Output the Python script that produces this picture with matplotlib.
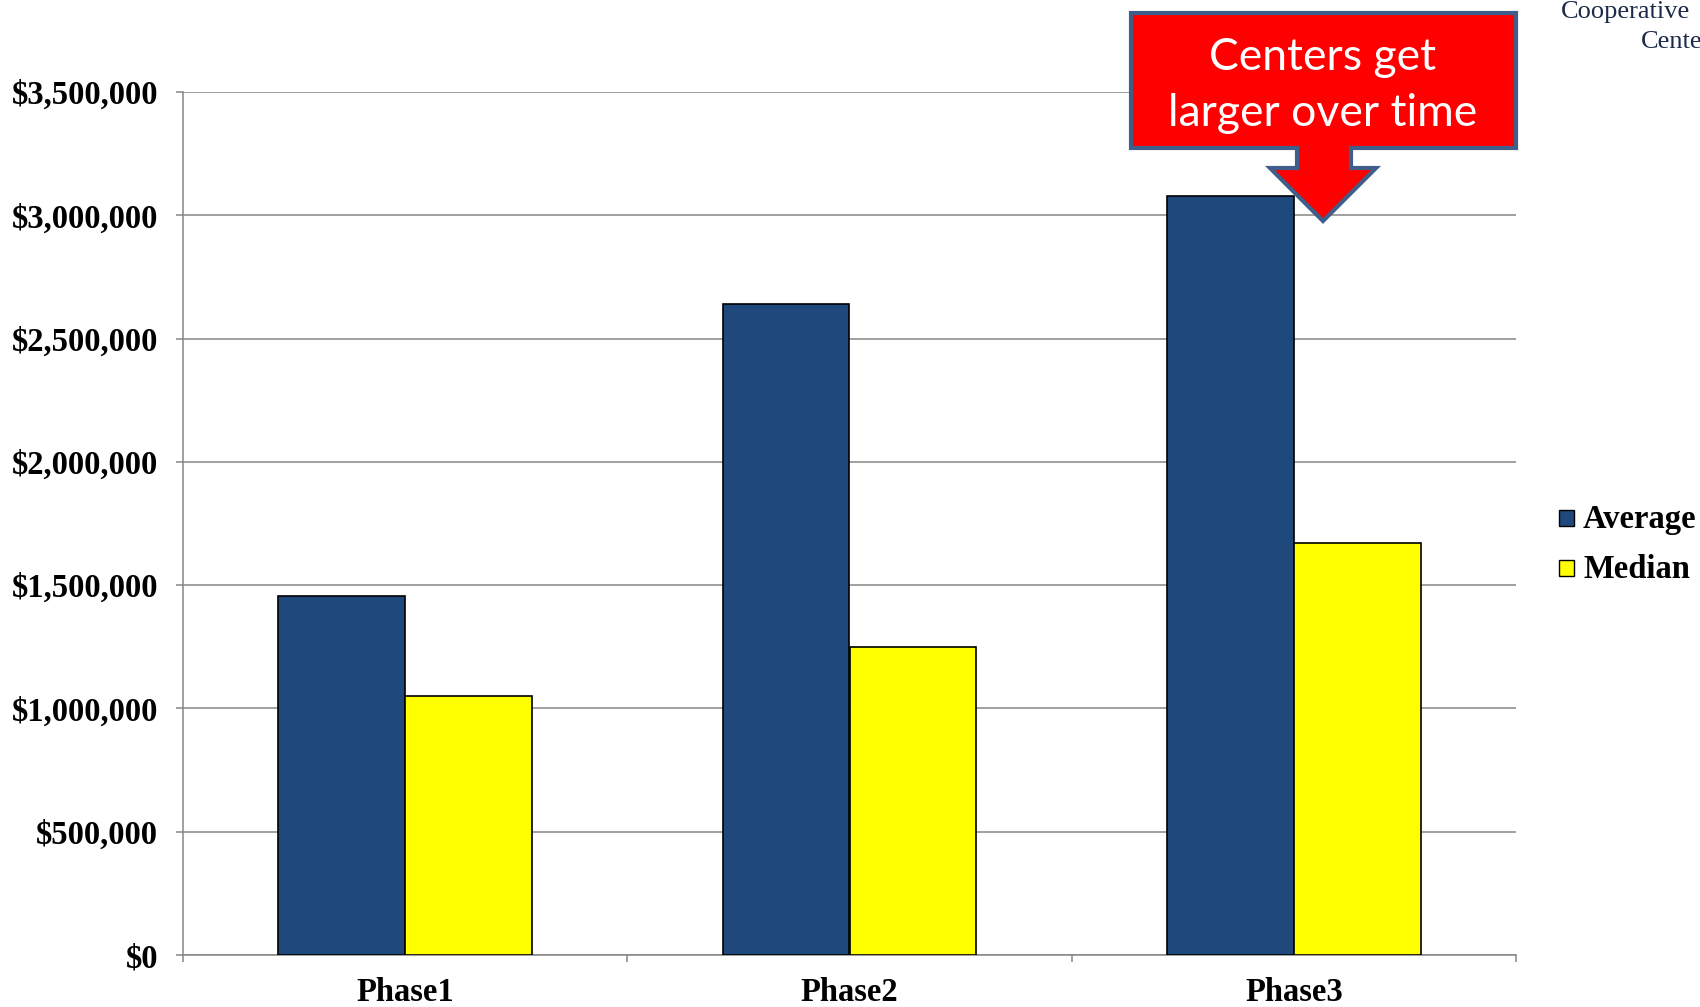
"""Average vs median center budget by phase."""

import matplotlib
matplotlib.use("Agg")
import matplotlib.pyplot as plt
import numpy as np
from matplotlib.patches import Polygon, Rectangle
from matplotlib.ticker import FuncFormatter, FixedLocator

phases = ["Phase1", "Phase2", "Phase3"]
average = [1455000, 2640000, 3080000]
median = [1050000, 1250000, 1670000]
series_names = ["Average", "Median"]
y_ticks = [0, 500000, 1000000, 1500000, 2000000, 2500000, 3000000, 3500000]

W, H = 1700, 1007
NAVY = "#1F497D"
YELLOW = "#FFFF00"
GRID = "#868686"
SERIF = "Liberation Serif"
LABEL_SIZE = 23.5


def fx(px):
    return px / W


def fy(py):
    return 1 - py / H


fig = plt.figure(figsize=(W / 100, H / 100), dpi=100)
ax = fig.add_axes([fx(183), fy(955), fx(1516) - fx(183), fy(92) - fy(955)])

x = np.arange(len(phases))
bw = 1 / 3.5
ax.bar(x - bw / 2, average, bw, color=NAVY, edgecolor="black", linewidth=1.2, zorder=3)
ax.bar(x + bw / 2, median, bw, color=YELLOW, edgecolor="black", linewidth=1.2, zorder=3)

ax.set_xlim(-0.5, len(phases) - 0.5)
ax.set_ylim(0, 3500000)
ax.set_yticks(y_ticks)
ax.yaxis.set_major_formatter(FuncFormatter(lambda v, _: f"${v:,.0f}"))
ax.set_xticks(x)
ax.set_xticklabels(phases)
ax.xaxis.set_minor_locator(FixedLocator(np.arange(-0.5, len(phases), 1.0)))

ax.grid(axis="y", color=GRID, linewidth=1.1, zorder=0)
ax.set_axisbelow(True)
for side in ("top", "right"):
    ax.spines[side].set_visible(False)
for side in ("left", "bottom"):
    ax.spines[side].set_color(GRID)
    ax.spines[side].set_linewidth(1.1)

ax.tick_params(axis="y", length=5, width=1.1, color=GRID, pad=13)
ax.tick_params(axis="x", which="major", length=0, pad=16)
ax.tick_params(axis="x", which="minor", length=5, width=1.1, color=GRID)
for lab in ax.get_yticklabels() + ax.get_xticklabels():
    lab.set_fontfamily(SERIF)
    lab.set_fontweight("bold")
    lab.set_fontsize(LABEL_SIZE)

# legend, drawn by hand at the right edge
for name, color, top in zip(series_names, [NAVY, YELLOW], [510, 560]):
    fig.patches.append(Rectangle((fx(1559), fy(top + 16)), fx(15), 16 / H,
                                 transform=fig.transFigure, facecolor=color,
                                 edgecolor="black", linewidth=1.0))
    fig.text(fx(1583), fy(top + 18), name, fontfamily=SERIF, fontweight="bold",
             fontsize=LABEL_SIZE, va="baseline", ha="left")

# callout box with downward arrow
callout = [(1131, 13), (1516, 13), (1516, 148), (1351, 148), (1351, 168),
           (1376, 168), (1323, 221), (1270, 168), (1297, 168), (1297, 148),
           (1131, 148)]
fig.patches.append(Polygon([(fx(a), fy(b)) for a, b in callout], closed=True,
                           transform=fig.transFigure, facecolor="#FF0000",
                           edgecolor="#3F5F8A", linewidth=3, joinstyle="miter",
                           zorder=5))
fig.text(fx(1323), fy(57), "Centers get", color="white", fontfamily="Lato",
         fontsize=32, ha="center", va="center", zorder=6)
fig.text(fx(1323), fy(113), "larger over time", color="white", fontfamily="Lato",
         fontsize=32, ha="center", va="center", zorder=6)

# page header text, cut by the figure edge as in the source slide
fig.text(fx(1561), fy(18), "Cooperative", color="#1C2B4A", fontfamily=SERIF,
         fontsize=19, ha="left", va="baseline")
fig.text(fx(1641), fy(48), "Centers", color="#1C2B4A", fontfamily=SERIF,
         fontsize=19, ha="left", va="baseline")

fig.savefig("out.png", dpi=100)
